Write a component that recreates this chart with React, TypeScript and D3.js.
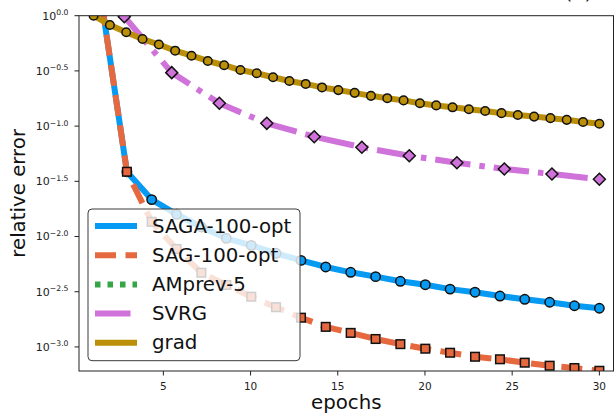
import React from 'react';
import * as d3 from 'd3';

// ---------- data ----------
const gradEpochs = [1, 1.935, 2.871, 3.806, 4.742, 5.677, 6.613, 7.548, 8.484, 9.419, 10.355, 11.29, 12.226, 13.161, 14.097, 15.032, 15.968, 16.903, 17.839, 18.774, 19.71, 20.645, 21.581, 22.516, 23.452, 24.387, 25.323, 26.258, 27.194, 28.129, 29.065, 30];
const gradError = [1.0, 0.824, 0.708, 0.615, 0.548, 0.482, 0.434, 0.389, 0.356, 0.322, 0.301, 0.277, 0.256, 0.241, 0.224, 0.212, 0.2, 0.188, 0.179, 0.171, 0.161, 0.154, 0.148, 0.142, 0.137, 0.131, 0.126, 0.122, 0.118, 0.114, 0.109, 0.105];

const sagaEpochs = [1.48, 2.91, 4.33, 5.76, 7.18, 8.61, 10.04, 11.46, 12.89, 14.31, 15.74, 17.17, 18.59, 20.02, 21.44, 22.87, 24.3, 25.72, 27.15, 28.57, 30.0];
const sagaError = [1.26, 0.0386, 0.0216, 0.0159, 0.0122, 0.00964, 0.00832, 0.00705, 0.00608, 0.0053, 0.00474, 0.00433, 0.00393, 0.00366, 0.00334, 0.00313, 0.00289, 0.0027, 0.00254, 0.00236, 0.00224];

const sagEpochs = [1.48, 2.91, 4.33, 5.76, 7.18, 8.61, 10.04, 11.46, 12.89, 14.31, 15.74, 17.17, 18.59, 20.02, 21.44, 22.87, 24.3, 25.72, 27.15, 28.57, 30.0];
const sagError = [1.26, 0.0386, 0.0136, 0.00771, 0.0047, 0.00364, 0.00285, 0.00229, 0.00184, 0.00152, 0.00134, 0.00118, 0.00106, 0.000964, 0.000886, 0.000815, 0.000773, 0.00072, 0.000676, 0.000644, 0.000608];

const amprevEpochs: number[] = [];
const amprevError: number[] = [];

const svrgEpochs = [2.76, 5.48, 8.21, 10.93, 13.65, 16.38, 19.1, 21.83, 24.55, 27.28, 30.0];
const svrgError = [0.98, 0.305, 0.161, 0.106, 0.0802, 0.0643, 0.0539, 0.0466, 0.0409, 0.0368, 0.033];

const xTicks = [5, 10, 15, 20, 25, 30];
const yTickExponents = [0, -0.5, -1, -1.5, -2, -2.5, -3];
const yTickLabels = ['0.0', '\u22120.5', '\u22121.0', '\u22121.5', '\u22122.0', '\u22122.5', '\u22123.0'];
const seriesNames = ['SAGA-100-opt', 'SAG-100-opt', 'AMprev-5', 'SVRG', 'grad'];

// ---------- layout ----------
const W = 615;
const H = 418;
const L = 79;
const R = 613.5;
const T = 15.7;
const B = 371;
const FONT = "'DejaVu Sans', sans-serif";

const COLORS = {
  saga: '#069af3',
  sag: '#e6683f',
  amprev: '#35a545',
  svrg: '#cf72d9',
  grad: '#bb9008',
};
const LW = 6;
const DASH_SAG = '21 9.5';
const DASH_AMPREV = '5.5 7';
const DASH_SVRG = '35.5 9 5.5 9';

export default function App() {
  const x = d3.scaleLinear().domain([0.163, 30.81]).range([L, R]);
  const y = d3.scaleLog().domain([Math.pow(10, -3.218), 1]).range([B, T]);

  const line = d3
    .line<[number, number]>()
    .x((d) => x(d[0]))
    .y((d) => y(d[1]));

  const zip = (xs: number[], ys: number[]) => xs.map((v, i) => [v, ys[i]] as [number, number]);
  const saga = zip(sagaEpochs, sagaError);
  const sag = zip(sagEpochs, sagError);
  const amprev = zip(amprevEpochs, amprevError);
  const svrg = zip(svrgEpochs, svrgError);
  const grad = zip(gradEpochs, gradError);

  const legendRows = [
    { name: seriesNames[0], color: COLORS.saga, dash: undefined },
    { name: seriesNames[1], color: COLORS.sag, dash: DASH_SAG },
    { name: seriesNames[2], color: COLORS.amprev, dash: DASH_AMPREV },
    { name: seriesNames[3], color: COLORS.svrg, dash: DASH_SVRG },
    { name: seriesNames[4], color: COLORS.grad, dash: undefined },
  ];

  return (
    <svg
      width={W}
      height={H}
      style={{ position: 'absolute', left: 0, top: 0, background: '#fff' }}
      fontFamily={FONT}
    >
      <defs>
        <clipPath id="plotClip">
          <rect x={L} y={T} width={R - L} height={B - T} />
        </clipPath>
      </defs>
      <rect x={0} y={0} width={W} height={H} fill="#fff" />

      {/* title, mostly cut off at the top */}
      <text x={578.5} y={-1.5} fontSize={20} textAnchor="middle" fill="#222">
        (a)
      </text>

      <g clipPath="url(#plotClip)">
        {/* SAGA */}
        <path d={line(saga) || ''} fill="none" stroke={COLORS.saga} strokeWidth={LW} strokeLinejoin="round" />
        {saga.map((d, i) => (
          <circle key={'sa' + i} cx={x(d[0])} cy={y(d[1])} r={4.7} fill={COLORS.saga} stroke="#111" strokeWidth={1.5} />
        ))}
        {/* SAG */}
        <path d={line(sag) || ''} fill="none" stroke={COLORS.sag} strokeWidth={LW} strokeDasharray={DASH_SAG} strokeLinejoin="round" />
        {sag.map((d, i) => (
          <rect key={'sg' + i} x={x(d[0]) - 4.3} y={y(d[1]) - 4.3} width={8.6} height={8.6} fill={COLORS.sag} stroke="#111" strokeWidth={1.5} />
        ))}
        {/* AMprev-5 */}
        {amprev.length > 0 && (
          <path d={line(amprev) || ''} fill="none" stroke={COLORS.amprev} strokeWidth={LW} strokeDasharray={DASH_AMPREV} />
        )}
        {/* SVRG */}
        <path d={line(svrg) || ''} fill="none" stroke={COLORS.svrg} strokeWidth={LW} strokeDasharray={DASH_SVRG} strokeLinejoin="round" />
        {svrg.map((d, i) => {
          const cx = x(d[0]);
          const cy = y(d[1]);
          const s = 6;
          return (
            <path
              key={'sv' + i}
              d={`M${cx},${cy - s}L${cx + s},${cy}L${cx},${cy + s}L${cx - s},${cy}Z`}
              fill={COLORS.svrg}
              stroke="#111"
              strokeWidth={1.5}
            />
          );
        })}
        {/* grad */}
        <path d={line(grad) || ''} fill="none" stroke={COLORS.grad} strokeWidth={LW} strokeLinejoin="round" />
        {grad.map((d, i) => (
          <circle key={'gr' + i} cx={x(d[0])} cy={y(d[1])} r={4.3} fill={COLORS.grad} stroke="#111" strokeWidth={1.5} />
        ))}
      </g>

      {/* frame */}
      <rect x={L} y={T} width={R - L} height={B - T} fill="none" stroke="#222" strokeWidth={1} />

      {/* x ticks */}
      {xTicks.map((t) => (
        <g key={'xt' + t}>
          <line x1={x(t)} x2={x(t)} y1={B} y2={B + 4.5} stroke="#222" strokeWidth={1} />
          <text x={x(t)} y={B + 18.5} fontSize={10.5} textAnchor="middle" fill="#222">
            {t}
          </text>
        </g>
      ))}

      {/* y ticks */}
      {yTickExponents.map((e, i) => {
        const ty = y(Math.pow(10, e));
        return (
          <g key={'yt' + i}>
            <line x1={L - 4.5} x2={L} y1={ty} y2={ty} stroke="#222" strokeWidth={1} />
            <text x={68.5} y={ty + 3.8} textAnchor="end" fill="#222">
              <tspan fontSize={11}>10</tspan>
              <tspan fontSize={7.7} dy={-4.3}>
                {yTickLabels[i]}
              </tspan>
            </text>
          </g>
        );
      })}

      {/* axis labels */}
      <text x={(L + R) / 2} y={408.5} fontSize={19.8} textAnchor="middle" fill="#111">
        epochs
      </text>
      <text transform={`translate(25, ${(T + B) / 2}) rotate(-90)`} fontSize={19.8} textAnchor="middle" fill="#111">
        relative error
      </text>

      {/* legend */}
      <g>
        <rect x={88} y={209} width={212} height={151.7} rx={4} ry={4} fill="#fff" fillOpacity={0.8} stroke="#3a3a3a" strokeWidth={1} />
        {legendRows.map((r, i) => {
          const ry = 226 + i * 29.2;
          return (
            <g key={'lg' + i}>
              <line x1={95} x2={137} y1={ry} y2={ry} stroke={r.color} strokeWidth={LW} strokeDasharray={r.dash} />
              <text x={152} y={ry + 4.5 + 2} fontSize={19.8} fill="#111">
                {r.name}
              </text>
            </g>
          );
        })}
      </g>
    </svg>
  );
}
